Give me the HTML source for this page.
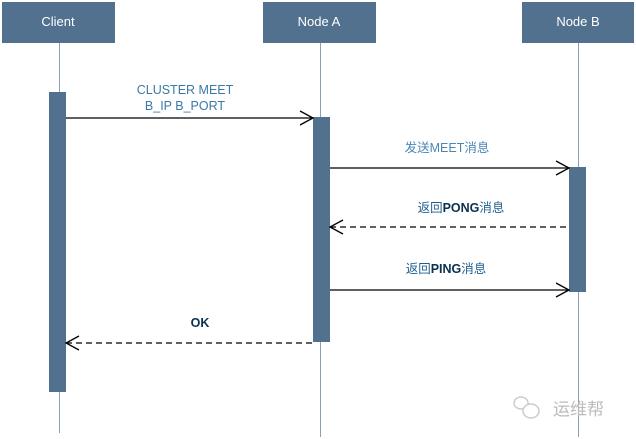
<!DOCTYPE html>
<html><head><meta charset="utf-8"><style>
html,body{margin:0;padding:0;background:#fff}
body{width:636px;height:439px;overflow:hidden;position:relative}
</style></head><body>
<svg width="636" height="439" xmlns="http://www.w3.org/2000/svg" style="position:absolute;left:0;top:0">
<g fill="#51718f">
<rect x="2" y="2" width="113" height="41"/>
<rect x="263" y="2" width="113" height="41"/>
<rect x="522" y="2" width="112" height="41"/>
</g>
<g font-family="Liberation Sans, sans-serif" font-size="13" fill="#fff" text-anchor="middle">
<text x="58" y="26">Client</text>
<text x="319" y="26">Node A</text>
<text x="578" y="26">Node B</text>
</g>
<g stroke="#8a9fb5" stroke-width="1">
<line x1="59.5" y1="43" x2="59.5" y2="433"/>
<line x1="320.5" y1="43" x2="320.5" y2="437"/>
<line x1="578.5" y1="43" x2="578.5" y2="437"/>
</g>
<g fill="#51718f">
<rect x="49" y="92" width="17" height="300"/>
<rect x="313" y="117" width="17" height="225"/>
<rect x="569" y="167" width="17" height="125"/>
</g>
<g stroke="#000" stroke-width="1.3" fill="none">
<line x1="66" y1="118" x2="313" y2="118"/>
<polyline points="300,111 313,118 300,125"/>
<line x1="330" y1="168" x2="569" y2="168"/>
<polyline points="556,161 569,168 556,175"/>
<line x1="330" y1="227" x2="569" y2="227" stroke-dasharray="6,4"/>
<polyline points="343,220 330,227 343,234"/>
<line x1="330" y1="290" x2="569" y2="290"/>
<polyline points="556,283 569,290 556,297"/>
<line x1="66" y1="343" x2="313" y2="343" stroke-dasharray="6,4"/>
<polyline points="79,336 66,343 79,350"/>
</g>
<g font-family="Liberation Sans, Noto Sans CJK SC, sans-serif" font-size="12.5" text-anchor="middle">
<text x="185" y="94" fill="#3a78a8">CLUSTER MEET</text>
<text x="185" y="110" fill="#3a78a8">B_IP B_PORT</text>
<text x="447" y="152" fill="#4a86b5">发送MEET消息</text>
<text x="461" y="212" fill="#1f5f8f">返回<tspan font-weight="bold" fill="#0b3050">PONG</tspan>消息</text>
<text x="446" y="273" fill="#1f5f8f">返回<tspan font-weight="bold" fill="#0b3050">PING</tspan>消息</text>
<text x="200" y="327" fill="#0b3050" font-weight="bold">OK</text>
</g>
<g fill="none" stroke="#ccc" stroke-width="1.5">
<ellipse cx="521" cy="403" rx="7" ry="6"/>
<ellipse cx="531" cy="411" rx="8" ry="7" fill="#fff"/>
</g>
<text x="553" y="415" font-family="Noto Sans CJK SC, sans-serif" font-size="17" fill="#bbb">运维帮</text>
</svg>
</body></html>
